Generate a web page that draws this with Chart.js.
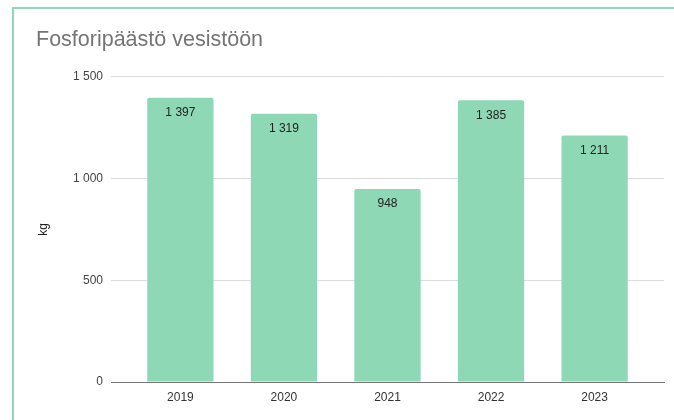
<!DOCTYPE html>
<html lang="fi">
<head>
<meta charset="utf-8">
<script src="https://cdn.jsdelivr.net/npm/chart.js@4"></script>
<style>
    html, body { margin: 0; padding: 0; background: #fff; overflow: hidden; }
    #frame {
        position: absolute; left: 12px; top: 7px; width: 700px; height: 440px;
        border-left: 2px solid #8fd9b6; border-top: 2px solid #8fd9b6;
    }
    #wrap { position: absolute; left: 0; top: 0; width: 674px; height: 420px; }
</style>
</head>
<body>
<div id="frame"></div>
<div id="wrap"><canvas id="chart"></canvas></div>
<script>
// ── Data ────────────────────────────────────────────────────────

const years = [2019, 2020, 2021, 2022, 2023];
const phosphorusKg = [1397, 1319, 948, 1385, 1211];
const yTicks = [0, 500, 1000, 1500];

const TITLE = 'Fosforipäästö vesistöön';
const Y_LABEL = 'kg';

// ── Formatting ──────────────────────────────────────────────────

// Finnish style: space as thousands separator
function formatFi(value) {
    return String(Math.round(value)).replace(/\B(?=(\d{3})+(?!\d))/g, ' ');
}

// ── Value labels inside the bars ────────────────────────────────

const barLabels = {
    id: 'barLabels',
    afterDatasetsDraw(chart) {
        const ctx = chart.ctx;
        const meta = chart.getDatasetMeta(0);
        ctx.save();
        ctx.font = "12px 'Liberation Sans', Arial, sans-serif";
        ctx.fillStyle = '#222';
        ctx.textAlign = 'center';
        ctx.textBaseline = 'middle';
        meta.data.forEach((bar, i) => {
            ctx.fillText(formatFi(phosphorusKg[i]), bar.x, bar.y + 15);
        });
        ctx.restore();
    }
};

// ── Chart ───────────────────────────────────────────────────────

const SANS = "'Liberation Sans', Arial, sans-serif";
const tickFont = { family: SANS, size: 12 };

new Chart(document.getElementById('chart'), {
    type: 'bar',
    data: {
        datasets: [{
            label: TITLE,
            data: years.map((y, i) => ({ x: y, y: phosphorusKg[i] })),
            backgroundColor: '#8fd8b6',
            borderWidth: 0,
            borderRadius: { topLeft: 2, topRight: 2 },
            borderSkipped: 'bottom',
            categoryPercentage: 1,
            barPercentage: 0.64,
        }],
    },
    options: {
        responsive: true,
        maintainAspectRatio: false,
        animation: false,
        layout: { padding: { left: 36, right: 10, top: 0, bottom: 0 } },
        plugins: {
            legend: { display: false },
            tooltip: { enabled: false },
            title: {
                display: true,
                text: TITLE,
                align: 'start',
                color: '#757575',
                font: { family: SANS, size: 21.5, weight: 'normal', lineHeight: 1.2 },
                padding: { top: 27, bottom: 24 },
            },
        },
        scales: {
            x: {
                type: 'linear',
                offset: false,
                min: 2018.33,
                max: 2023.67,
                afterBuildTicks: (scale) => { scale.ticks = years.map(v => ({ value: v })); },
                afterFit: (scale) => { scale.height = 38; },
                grid: { display: false, drawTicks: false },
                border: { color: '#777', width: 1 },
                ticks: {
                    color: '#333',
                    font: tickFont,
                    padding: 8,
                    callback: (v) => String(v),
                },
            },
            y: {
                min: 0,
                max: 1500,
                afterBuildTicks: (scale) => { scale.ticks = yTicks.map(v => ({ value: v })); },
                afterFit: (scale) => { scale.width = 75; },
                grid: {
                    drawTicks: false,
                    color: (c) => c.tick && c.tick.value === 0 ? '#777' : '#dcdcdc',
                },
                border: { display: false },
                ticks: {
                    color: '#444',
                    font: tickFont,
                    padding: 8,
                    callback: (v) => formatFi(v),
                },
                title: {
                    display: true,
                    text: Y_LABEL,
                    color: '#222',
                    font: { family: SANS, size: 12 },
                    padding: { top: 0, bottom: 0 },
                },
            },
        },
    },
    plugins: [barLabels],
});
</script>
</body>
</html>
